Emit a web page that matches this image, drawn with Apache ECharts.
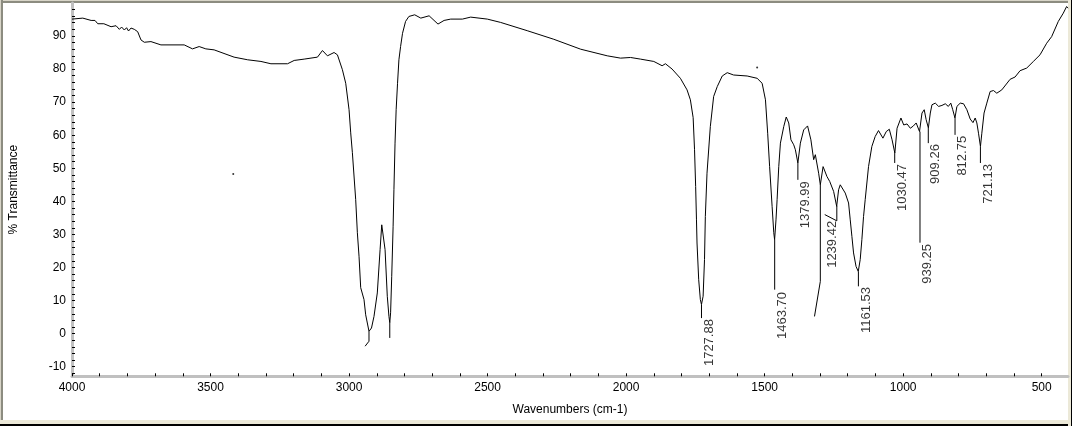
<!DOCTYPE html>
<html>
<head>
<meta charset="utf-8">
<script src="https://cdn.jsdelivr.net/npm/echarts@6/dist/echarts.min.js"></script>
<style>
  html, body { margin: 0; padding: 0; background: #fff; }
  #chart { width: 1072px; height: 426px; }
</style>
</head>
<body>
<div id="chart"></div>
<script>
// spectrum trace (cm-1 / %T)
var wavenumbers = [
  4000, 3961, 3931, 3917, 3907, 3885, 3859, 3841, 3829, 3821, 3811, 3803, 3796, 3787, 3775, 3763,
  3751, 3739, 3715, 3679, 3595, 3565, 3541, 3517, 3487, 3415, 3366, 3318, 3282, 3222, 3198, 3162,
  3114, 3096, 3078, 3054, 3042, 3024, 3012, 3000, 2994, 2988, 2976, 2970, 2964, 2958, 2946, 2940,
  2928, 2919, 2910, 2898, 2888, 2882, 2876, 2870, 2862, 2856, 2853, 2850, 2846, 2841, 2838, 2834,
  2830, 2825, 2820, 2814, 2807, 2796, 2784, 2763, 2741, 2711, 2679, 2657, 2633, 2591, 2561, 2501,
  2453, 2357, 2261, 2164, 2068, 2020, 1984, 1948, 1900, 1870, 1858, 1834, 1804, 1780, 1768, 1758,
  1753, 1749, 1746, 1744, 1738, 1732, 1728, 1722, 1717, 1714, 1708, 1696, 1684, 1671, 1653, 1635,
  1612, 1563, 1527, 1509, 1497, 1489, 1482, 1473, 1467, 1464, 1459, 1455, 1449, 1443, 1431, 1422,
  1413, 1405, 1395, 1389, 1380, 1371, 1359, 1345, 1333, 1323, 1317, 1311, 1305, 1299, 1289, 1285,
  1275, 1265, 1258, 1251, 1240, 1233, 1227, 1221, 1209, 1197, 1191, 1185, 1179, 1170, 1162, 1155,
  1149, 1143, 1137, 1125, 1113, 1101, 1089, 1073, 1061, 1050, 1040, 1030, 1022, 1008, 998, 986,
  974, 963, 953, 941, 932, 924, 917, 909, 902, 896, 884, 872, 860, 848, 837, 828,
  821, 813, 806, 794, 782, 770, 758, 748, 740, 734, 728, 721, 716, 708, 698, 686,
  674, 662, 644, 614, 596, 578, 554, 530, 506, 482, 464, 440, 422, 410, 405
];
var transmittance = [
  95.1, 95.4, 94.7, 94.7, 93.7, 93.7, 92.8, 93.1, 92.0, 92.7, 91.8, 92.5, 91.5, 92.4, 92.0, 91.3,
  88.8, 88.1, 88.3, 87.3, 87.3, 86.1, 86.8, 86.1, 85.8, 83.6, 82.8, 82.3, 81.6, 81.6, 82.6, 83.0,
  83.6, 85.6, 84.0, 85.0, 84.3, 79.8, 75.7, 67.7, 60.7, 54.7, 40.5, 30.5, 23.4, 13.9, 10.3, 5.7,
  0.7, 1.7, 5.2, 12.3, 25.4, 32.9, 32.4, 25.4, 11.3, 5.2, 3.3, 6.3, 17.2, 32.3, 43.5, 57.6,
  67.7, 75.7, 82.8, 86.8, 90.8, 94.4, 95.9, 96.4, 95.4, 96.1, 93.6, 94.7, 95.1, 95.1, 95.7, 95.1,
  94.1, 91.6, 89.0, 86.0, 84.0, 83.3, 83.5, 83.0, 82.3, 81.0, 81.6, 80.0, 77.2, 73.7, 70.7, 65.3,
  55.6, 44.5, 34.4, 27.4, 16.3, 10.3, 8.8, 11.3, 22.4, 35.4, 48.5, 62.6, 71.7, 74.7, 77.9, 78.9,
  78.2, 77.9, 77.2, 75.7, 70.7, 60.6, 50.5, 38.5, 30.5, 28.4, 34.4, 40.5, 50.5, 57.6, 62.6, 65.5,
  63.7, 58.6, 57.1, 55.6, 51.6, 57.6, 61.6, 62.8, 58.6, 52.6, 54.1, 53.5, 48.5, 45.0, 50.5, 51.1,
  47.5, 46.0, 46.0, 43.0, 38.5, 43.5, 45.0, 45.2, 42.5, 39.5, 34.4, 29.4, 24.4, 20.3, 18.8, 22.4,
  28.4, 35.4, 40.5, 50.5, 56.6, 59.6, 61.4, 59.1, 61.1, 61.8, 58.6, 54.6, 62.1, 65.2, 63.1, 63.4,
  62.1, 62.8, 63.7, 61.1, 66.7, 67.7, 64.7, 62.2, 66.7, 69.2, 69.7, 68.7, 69.0, 69.5, 68.7, 69.7,
  67.7, 65.2, 68.7, 69.7, 69.5, 67.7, 64.9, 63.8, 65.2, 63.7, 60.6, 56.6, 60.6, 66.7, 69.7, 73.2,
  73.5, 72.7, 73.7, 76.9, 77.6, 79.5, 80.3, 82.3, 84.3, 87.8, 89.8, 94.4, 96.9, 98.9, 98.4
];

// peak labels
var peakLabels = ['1727.88', '1463.70', '1379.99', '1239.42', '1161.53', '1030.47', '939.25', '909.26', '812.75', '721.13'];
var labelWn = [1727.88, 1463.70, 1379.99, 1283, 1161.53, 1030.47, 939.25, 909.26, 812.75, 721.13];
var labelTopT = [4.4, 12.6, 46.1, 34.1, 14.1, 51.3, 27.1, 57.3, 59.8, 51.3];

// leader lines from the curve to the labels
var leaders = [
  [[2928, 0.7], [2928, -2.3], [2942, -3.8]],
  [[2853, 3.3], [2853, -1.3]],
  [[1727.88, 8.8], [1727.88, 4.7]],
  [[1463.70, 28.4], [1463.70, 13.3]],
  [[1379.99, 51.6], [1379.99, 46.5]],
  [[1299, 45.0], [1299, 15.8], [1320, 5.2]],
  [[1239.42, 38.7], [1239.42, 34.1], [1283, 36.0]],
  [[1161.53, 18.8], [1161.53, 14.3]],
  [[1030.47, 54.6], [1030.47, 51.6]],
  [[939.25, 61.1], [939.25, 27.5]],
  [[909.26, 62.2], [909.26, 57.6]],
  [[812.75, 65.2], [812.75, 60.1]],
  [[721.13, 56.6], [721.13, 51.6]]
];

var strayDots = [[3418, 48.3], [1527, 80.5]];

var xLabelValues = [500, 1000, 1500, 2000, 2500, 3000, 3500, 4000];
var yLabelValues = [-10, 0, 10, 20, 30, 40, 50, 60, 70, 80, 90];

var xTickValues = [];
for (var v = 500; v <= 4000; v += 100) xTickValues.push(v);
var yTickValues = [];
for (var w = -12; w <= 98; w += 2) yTickValues.push(w);

var FONT = '"Liberation Sans", Arial, sans-serif';

var chart = echarts.init(document.getElementById('chart'));

var spectrum = [];
for (var i = 0; i < wavenumbers.length; i++) spectrum.push([wavenumbers[i], transmittance[i]]);

var series = [{
  type: 'line',
  data: spectrum,
  showSymbol: false,
  symbol: 'none',
  lineStyle: { color: '#000', width: 1 },
  z: 3
}];

leaders.forEach(function (pts) {
  series.push({
    type: 'line',
    data: pts,
    symbol: 'none',
    lineStyle: { color: '#000', width: 1 },
    z: 3
  });
});

// label anchors: string end sits just below the leader end, a pixel right of it
var labelData = [];
for (var k = 0; k < peakLabels.length; k++) {
  labelData.push({ value: [labelWn[k] - 4, labelTopT[k]], name: peakLabels[k] });
}
series.push({
  type: 'scatter',
  data: labelData,
  symbolSize: 0,
  label: {
    show: true,
    position: 'inside',
    formatter: function (p) { return p.name; },
    rotate: 90,
    align: 'right',
    verticalAlign: 'top',
    color: '#000',
    fontSize: 13,
    fontFamily: FONT
  },
  z: 4
});

series.push({
  type: 'scatter',
  data: strayDots,
  symbolSize: 2,
  itemStyle: { color: '#000' }
});

var option = {
  animation: false,
  backgroundColor: '#fff',
  grid: { left: 71, right: 4, top: 2.9, bottom: 49.7 },
  xAxis: {
    type: 'value',
    min: 405,
    max: 4000,
    inverse: true,
    name: 'Wavenumbers (cm-1)',
    nameLocation: 'middle',
    nameGap: 27,
    nameTextStyle: { color: '#000', fontSize: 12, fontFamily: FONT },
    axisLine: { show: true, onZero: false, lineStyle: { color: '#c0c0c0', width: 3 } },
    axisTick: { show: true, inside: true, length: 3, customValues: xTickValues, lineStyle: { color: '#000' } },
    axisLabel: {
      color: '#000', fontSize: 12, fontFamily: FONT, margin: 5, customValues: xLabelValues,
      formatter: function (val) { return String(val); }
    },
    splitLine: { show: false }
  },
  yAxis: {
    type: 'value',
    min: -12.9,
    max: 100,
    name: '% Transmittance',
    nameLocation: 'middle',
    nameGap: 52,
    nameRotate: 90,
    nameTextStyle: { color: '#000', fontSize: 12, fontFamily: FONT },
    axisLine: { show: true, onZero: false, lineStyle: { color: '#c0c0c0', width: 3 } },
    axisTick: { show: true, inside: true, length: 3, customValues: yTickValues, lineStyle: { color: '#000' } },
    axisLabel: {
      color: '#000', fontSize: 12, fontFamily: FONT, margin: 6, customValues: yLabelValues,
      formatter: function (val) { return String(val); }
    },
    splitLine: { show: false }
  },
  graphic: [
    { type: 'rect', shape: { x: 0, y: 0, width: 1072, height: 3 }, style: { fill: '#8c8c80' }, silent: true },
    { type: 'rect', shape: { x: 0, y: 0, width: 1072, height: 1 }, style: { fill: '#d8d5c8' }, silent: true },
    { type: 'rect', shape: { x: 0, y: 0, width: 3, height: 426 }, style: { fill: '#8c8c80' }, silent: true },
    { type: 'rect', shape: { x: 0, y: 0, width: 1, height: 426 }, style: { fill: '#d8d5c8' }, silent: true },
    { type: 'rect', shape: { x: 0, y: 420, width: 1072, height: 4 }, style: { fill: '#ece9d8' }, silent: true },
    { type: 'rect', shape: { x: 0, y: 424, width: 1072, height: 2 }, style: { fill: '#000' }, silent: true },
    { type: 'rect', shape: { x: 1068, y: 0, width: 3, height: 426 }, style: { fill: '#ece9d8' }, silent: true },
    { type: 'rect', shape: { x: 1071, y: 0, width: 1, height: 426 }, style: { fill: '#000' }, silent: true }
  ],
  series: series
};

chart.setOption(option);
</script>
</body>
</html>
